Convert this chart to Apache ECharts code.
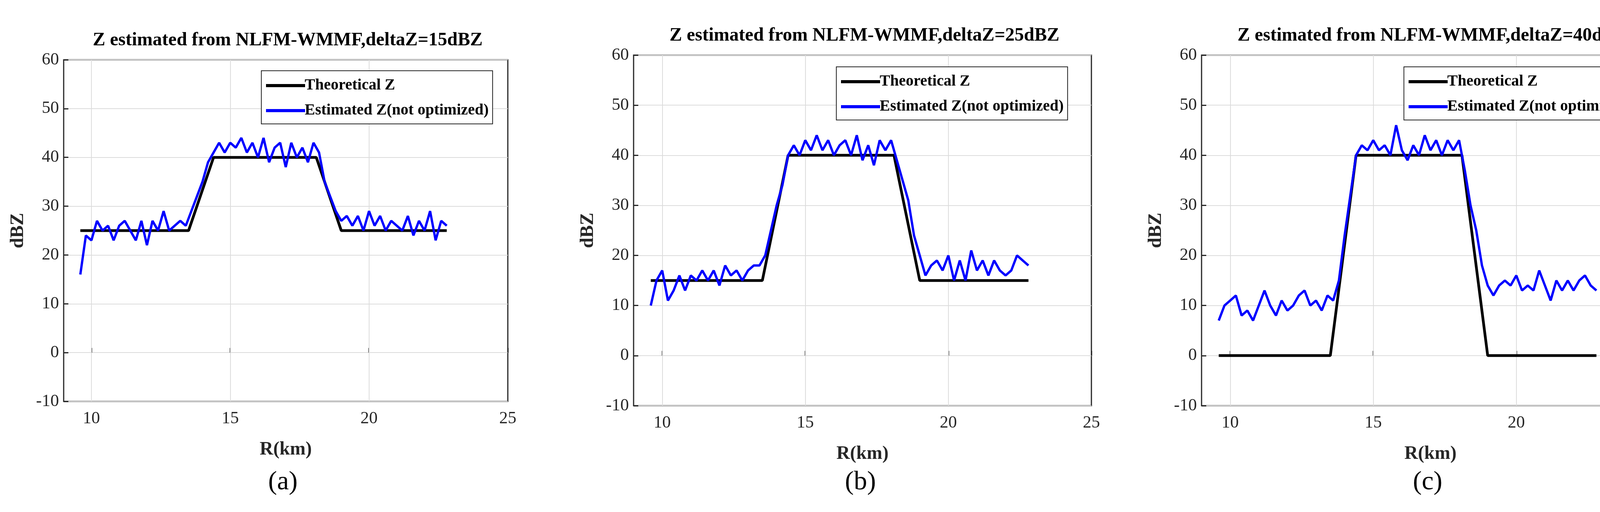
<!DOCTYPE html>
<html><head><meta charset="utf-8">
<script src="https://cdn.jsdelivr.net/npm/echarts@6/dist/echarts.min.js"></script>
<style>html,body{margin:0;background:#fff}#c{width:4325px;height:1310px}</style>
</head><body><div id="c"></div>
<script>
const rangeKm = [9.6,9.8,10.0,10.2,10.4,10.6,10.8,11.0,11.2,11.4,11.6,11.8,12.0,12.2,12.4,12.6,12.8,13.0,13.2,13.4,13.6,13.8,14.0,14.2,14.4,14.6,14.8,15.0,15.2,15.4,15.6,15.8,16.0,16.2,16.4,16.6,16.8,17.0,17.2,17.4,17.6,17.8,18.0,18.2,18.4,18.6,18.8,19.0,19.2,19.4,19.6,19.8,20.0,20.2,20.4,20.6,20.8,21.0,21.2,21.4,21.6,21.8,22.0,22.2,22.4,22.6,22.8];
const estA = [16,24,23,27,25,26,23,26,27,25,23,27,22,27,25,29,25,26,27,26,29,32,35,39,41,43,41,43,42,44,41,43,40,44,39,42,43,38,43,40,42,39,43,41,35,32,29,27,28,26,28,25,29,26,28,25,27,26,25,28,24,27,25,29,23,27,26];
const estB = [10,15,17,11,13,16,13,16,15,17,15,17,14,18,16,17,15,17,18,18,20,25,30,34,40,42,40,43,41,44,41,43,40,42,43,40,44,39,42,38,43,41,43,39,35,31,24,20,16,18,19,17,20,15,19,15,21,17,19,16,19,17,16,17,20,19,18];
const estC = [7,10,11,12,8,9,7,10,13,10,8,11,9,10,12,13,10,11,9,12,11,15,24,32,40,42,41,43,41,42,40,46,41,39,42,40,44,41,43,40,43,41,43,37,30,25,18,14,12,14,15,14,16,13,14,13,17,14,11,15,13,15,13,15,16,14,13];
const theoX = [9.6,13.5,14.4,18.1,19.0,22.8];
const theoA = [25,25,40,40,25,25];
const theoB = [15,15,40,40,15,15];
const theoC = [0,0,40,40,0,0];
const titles = ['Z estimated from NLFM-WMMF,deltaZ=15dBZ','Z estimated from NLFM-WMMF,deltaZ=25dBZ','Z estimated from NLFM-WMMF,deltaZ=40dBZ'];
const panelLabels = ['a','b','c'];
const xTicks = [10,15,20,25];

const grids = [
 {left:163, width:1137, top:153, height:874},
 {left:1622, width:1172, top:141, height:897},
 {left:3076, width:1172, top:141, height:897}
];
const legendPos = [{left:669,top:181,w:609},{left:2141,top:171,w:624},{left:3594,top:171,w:625}];
const estAll=[estA,estB,estC], theoAll=[theoA,theoB,theoC];
const serif = 'Liberation Serif';
const opt = {animation:false, backgroundColor:'#fff', grid:[], xAxis:[], yAxis:[], series:[], legend:[], title:[], graphic:[]};
grids.forEach((g,i)=>{
  opt.grid.push({left:g.left, width:g.width, top:g.top, height:g.height, show:true, borderColor:'#262626', borderWidth:3, containLabel:false});
  opt.xAxis.push({gridIndex:i, type:'value', min:9, max:25,
    axisLine:{show:false}, axisTick:{show:true,inside:true,length:12,customValues:xTicks,lineStyle:{color:'#262626',width:3}},
    axisLabel:{fontFamily:serif,fontSize:44,color:'#262626',margin:22, customValues:xTicks},
    splitLine:{show:false},
    name:'R(km)', nameLocation:'middle', nameGap:100, nameTextStyle:{fontFamily:serif,fontWeight:'bold',fontSize:48,color:'#262626'}});
  opt.yAxis.push({gridIndex:i, type:'value', min:-10, max:60, interval:10,
    axisLine:{show:false}, axisTick:{inside:true,length:12,lineStyle:{color:'#262626',width:3}},
    axisLabel:{fontFamily:serif,fontSize:44,color:'#262626',margin:12},
    splitLine:{show:true,lineStyle:{color:'#dcdcdc',width:2}},
    name:'dBZ', nameLocation:'middle', nameGap:92, nameTextStyle:{fontFamily:serif,fontWeight:'bold',fontSize:48,color:'#262626'}});
  opt.series.push({type:'line', name:'Theoretical Z', xAxisIndex:i, yAxisIndex:i, data:theoX.map((x,k)=>[x,theoAll[i][k]]), showSymbol:false, lineStyle:{color:'#000',width:7}, itemStyle:{color:'#000'}, z:2,
    markLine:{silent:true, symbol:'none', label:{show:false}, lineStyle:{color:'#dcdcdc',width:2,type:'solid'}, z:1,
      data:xTicks.slice(0,3).map(v=>({xAxis:v}))}});
  opt.series.push({type:'line', name:'Estimated Z(not optimized)', xAxisIndex:i, yAxisIndex:i, data:rangeKm.map((x,k)=>[x,estAll[i][k]]), showSymbol:false, lineStyle:{color:'#0000ff',width:6}, itemStyle:{color:'#0000ff'}, z:3});
  const lp=legendPos[i];
  opt.legend.push({left:lp.left, top:lp.top, width:lp.w, orient:'vertical', itemWidth:100, itemHeight:8, itemGap:24, padding:[18,10,14,12],
    borderColor:'#262626', borderWidth:2, backgroundColor:'#fff', icon:'rect',
    data:[{name:'Theoretical Z',itemStyle:{color:'#000'}},{name:'Estimated Z(not optimized)',itemStyle:{color:'#0000ff'}}],
    textStyle:{fontFamily:serif,fontWeight:'bold',fontSize:40,color:'#000',padding:[0,0,0,-6]}});
  opt.title.push({text:titles[i], left:g.left+g.width/2, textAlign:'center', top:g.top-78, textStyle:{fontFamily:serif,fontWeight:'bold',fontSize:48,color:'#000'}});
  opt.graphic.push({type:'text', left:g.left+g.width/2-45, top:1200, style:{text:'('+panelLabels[i]+')', font:'68px "Liberation Serif"', fill:'#000'}});
});
const chart = echarts.init(document.getElementById('c'));
chart.setOption(opt);
</script></body></html>
